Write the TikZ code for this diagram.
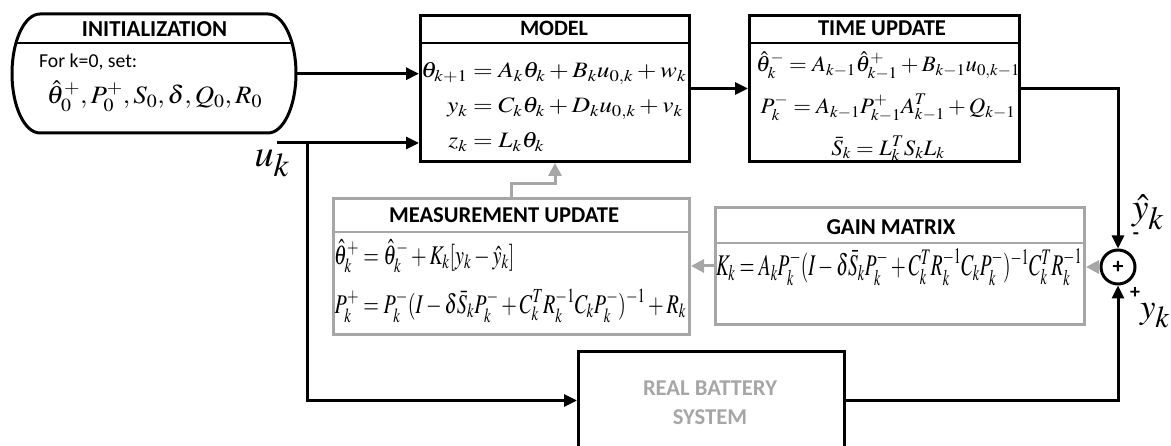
\documentclass[tikz,border=0pt]{standalone}
\usepackage{amsmath}
\usepackage{mathptmx}
\usepackage[no-math]{fontspec}
\setmainfont{Carlito}
\usepackage{graphicx}
\usetikzlibrary{arrows.meta}
\definecolor{gboxc}{RGB}{166,166,166}
\newcommand{\fs}[1]{\fontsize{#1}{#1}\selectfont}
\newcommand{\fitw}[2]{\resizebox{#1}{!}{#2}}
\newcommand{\fitx}[2]{\resizebox{#1}{\height}{#2}}
\begin{document}
\begin{tikzpicture}[x=1pt,y=-1pt,
  box/.style={draw=black,line width=3pt,inner sep=0pt},
  gbox/.style={draw=gboxc,line width=3pt,inner sep=0pt},
  hdr/.style={font=\fontsize{22}{26}\selectfont\bfseries,inner sep=0pt},
  conn/.style={line width=3pt,-{Triangle[length=13pt,width=12pt]}},
  gconn/.style={line width=3pt,draw=gboxc,-{Triangle[length=13pt,width=13pt]}},
  divk/.style={line width=1.5pt},
  divg/.style={line width=1.5pt,draw=gboxc},
  lbl/.style={inner sep=0pt}]
\useasboundingbox (0,0) rectangle (1171,446);
\clip (0,0) rectangle (1171,446);

% INITIALIZATION
\node[minimum width=284pt,minimum height=119pt,inner sep=0pt,anchor=north west] (init) at (12,14) {};
\begin{scope}
\clip (40,14) -- (268,14) arc[start angle=-90,end angle=90,x radius=28,y radius=59.5] -- (40,133) arc[start angle=90,end angle=270,x radius=28,y radius=59.5] -- cycle;
\draw[divk] (0,43) -- (320,43);
\end{scope}
\draw[line width=3pt] (40,14) -- (268,14) arc[start angle=-90,end angle=90,x radius=28,y radius=59.5] -- (40,133) arc[start angle=90,end angle=270,x radius=28,y radius=59.5] -- cycle;
\node[hdr] (initH) at (154.5,29) {\fitw{145pt}{INITIALIZATION}};
\node[lbl,font=\fs{20},anchor=west] (initT) at (39,62) {\fitw{98pt}{For k=0, set:}};
\node[lbl,font=\fs{25}] (initM) at (154.5,96) {\fitx{215pt}{$\hat{\theta}_0^+, P_0^+, S_0, \delta, Q_0, R_0$}};

% MODEL
\node[box,minimum width=269pt,minimum height=146pt,anchor=north west] (model) at (419,14) {};
\draw[divk] (419,43) -- (688,43);
\node[hdr] (modelH) at (554,28.5) {\fitw{68pt}{MODEL}};
\node[lbl,font=\fontsize{22}{24}\selectfont,anchor=west] (modelE) at (421,108)
  {\fitx{265pt}{\setlength{\jot}{11pt}$\begin{aligned}\theta_{k+1}&=A_k\theta_k+B_ku_{0,k}+w_k\\ y_k&=C_k\theta_k+D_ku_{0,k}+v_k\\ z_k&=L_k\theta_k\end{aligned}$}};

% TIME UPDATE
\node[box,minimum width=270pt,minimum height=146pt,anchor=north west] (time) at (748,14) {};
\draw[divk] (748,43) -- (1018,43);
\node[hdr] (timeH) at (882,28.5) {\fitw{128pt}{TIME UPDATE}};
\node[lbl,font=\fontsize{22}{24}\selectfont] (timeE) at (888,107)
  {\fitx{264pt}{\setlength{\jot}{13pt}$\begin{gathered}\hat\theta_k^- = A_{k-1}\hat\theta_{k-1}^+ + B_{k-1}u_{0,k-1}\\ P_k^- = A_{k-1}P_{k-1}^+A_{k-1}^T+Q_{k-1}\\ \bar S_k = L_k^TS_kL_k\end{gathered}$}};

% MEASUREMENT UPDATE
\node[gbox,minimum width=356pt,minimum height=136pt,anchor=north west] (meas) at (332,197) {};
\draw[divg] (332,232) -- (688,232);
\node[hdr] (measH) at (504,215) {\fitw{230pt}{MEASUREMENT UPDATE}};
\node[lbl,font=\fontsize{27}{27}\selectfont,anchor=west] (measE) at (334,281)
  {\fitx{352pt}{\setlength{\jot}{15pt}$\begin{aligned}\hat\theta_k^+ &= \hat\theta_k^- + K_k[y_k-\hat y_k]\\ P_k^+ &= P_k^-(I-\delta\bar S_kP_k^- + C_k^TR_k^{-1}C_kP_k^-)^{-1}+R_k\end{aligned}$}};

% GAIN MATRIX
\node[gbox,minimum width=369pt,minimum height=117pt,anchor=north west] (gain) at (714,206) {};
\draw[divg] (714,243) -- (1083,243);
\node[hdr] (gainH) at (891,227) {\fitw{129pt}{GAIN MATRIX}};
\node[lbl,font=\fs{30}] (gainE) at (899,267)
  {\fitx{366pt}{$K_k = A_kP_k^-(I-\delta\bar S_kP_k^- + C_k^TR_k^{-1}C_kP_k^-)^{-1}C_k^TR_k^{-1}$}};

% REAL BATTERY SYSTEM
\node[box,minimum width=266pt,minimum height=98pt,anchor=north west] (batt) at (577,350) {};
\node[lbl,font=\fontsize{22}{28}\selectfont\bfseries,text=gboxc] (battT) at (710,404)
  {\fitw{134pt}{\begin{tabular}{@{}c@{}}REAL BATTERY\\SYSTEM\end{tabular}}};

% SUM
\node[circle,draw,line width=3pt,minimum size=34pt,inner sep=0pt,font=\fs{22}\bfseries] (sum) at (1118,267) {+};

% labels
\node[lbl,font=\fs{32}] (uk) at (272,163) {\fitw{35pt}{$u_{\mbox{\fs{28}$k$}}$}};
\node[lbl,font=\fs{32}] (yhat) at (1148,212) {\fitw{32pt}{$\hat y_{\mbox{\fs{28}$k$}}$}};
\node[lbl,font=\fs{32}] (yk) at (1155,316) {\fitw{30pt}{$y_{\mbox{\fs{28}$k$}}$}};
\node[lbl,font=\fs{20}\bfseries] (minus) at (1136,236) {-};
\node[lbl,font=\fs{20}\bfseries] (plus) at (1135,293) {+};

% connectors
\coordinate (uStart) at (277,143);
\coordinate (uSplit) at (307,143);
\coordinate (mid) at (530,184);
\draw[conn] (init.east) -- (model.west |- init.east);
\draw[conn] (uStart) -- (model.west |- uStart);
\draw[conn] (uSplit) |- (batt.west);
\draw[conn] (model.east) -- (time.west);
\draw[conn] (time.east) -| (sum.north);
\draw[conn] (batt.east) -| (sum.south);
\draw[gconn] (sum.west) -- (gain.east |- sum.west);
\draw[gconn] (gain.west) -- (meas.east |- gain.west);
\draw[gconn] (meas.north) |- (mid) -| (model.south);
\end{tikzpicture}
\end{document}
